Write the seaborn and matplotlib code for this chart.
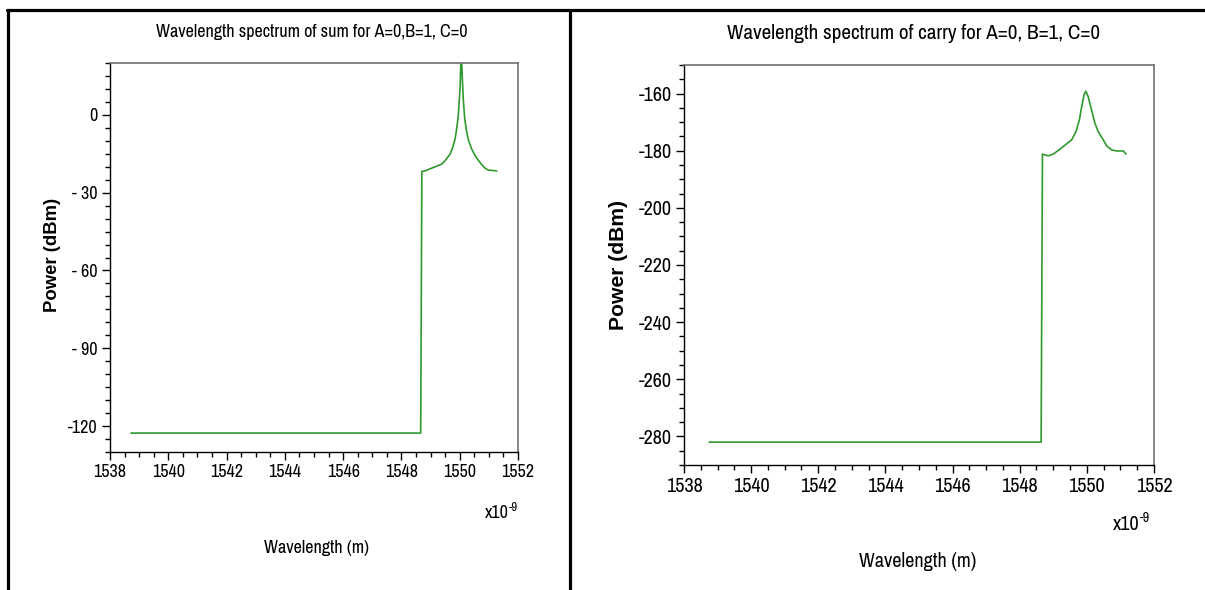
import numpy as np
import pandas as pd
import seaborn as sns
import matplotlib.pyplot as plt
from matplotlib import font_manager as fm
from matplotlib.lines import Line2D
from matplotlib.ticker import MultipleLocator, FuncFormatter

# sum output spectrum (wavelength in nm, power in dBm)
sum_wl = [1538.72, 1548.66, 1548.70, 1548.81, 1549.09, 1549.38, 1549.50, 1549.67, 1549.76,
          1549.84, 1549.90, 1549.95, 1550.01, 1550.05, 1550.12, 1550.17, 1550.24, 1550.30,
          1550.41, 1550.55, 1550.70, 1550.85, 1550.98, 1551.27]
sum_pw = [-122.7, -122.7, -21.8, -21.6, -20.3, -19.0, -17.6, -15.1, -12.5,
          -9.3, -5.0, -0.3, 10.1, 24.0, 6.2, -1.5, -6.7, -9.8,
          -13.2, -16.2, -18.4, -20.4, -21.3, -21.6]

# carry output spectrum
carry_wl = [1538.75, 1548.64, 1548.68, 1548.85, 1549.00, 1549.20, 1549.40, 1549.55,
            1549.68, 1549.78, 1549.85, 1549.92, 1549.97, 1550.04, 1550.14, 1550.24,
            1550.34, 1550.49, 1550.59, 1550.74, 1550.89, 1551.09, 1551.17]
carry_pw = [-282.0, -282.0, -181.2, -181.8, -181.2, -179.5, -177.6, -176.2,
            -173.3, -169.2, -164.5, -160.4, -159.2, -161.0, -165.6, -170.3,
            -173.3, -176.2, -178.3, -179.7, -180.1, -180.1, -181.2]

x_ticks = [1538, 1540, 1542, 1544, 1546, 1548, 1550, 1552]
sum_yticks = [0, -30, -60, -90, -120]
carry_yticks = [-160, -180, -200, -220, -240, -260, -280]

titles = ["Wavelength spectrum of sum for A=0,B=1, C=0",
          "Wavelength spectrum of carry for A=0, B=1, C=0"]

# pick a narrow face if one is installed (reference uses an Arial Narrow look)
fam, stretch = "DejaVu Sans", "condensed"
for key in ["Narrow", "Condensed"]:
    hits = [f for f in fm.fontManager.ttflist if key in f.name and f.style == "normal"]
    if hits:
        fam, stretch = hits[0].name, hits[0].stretch
        break

sns.set_theme(style="white")
plt.rcParams["font.family"] = [fam, "DejaVu Sans"]
plt.rcParams["font.stretch"] = stretch
plt.rcParams["text.color"] = "black"
plt.rcParams["xtick.color"] = "black"
plt.rcParams["ytick.color"] = "black"
plt.rcParams["axes.labelcolor"] = "black"

GREEN = "#2e9a2e"

fig = plt.figure(figsize=(12.05, 5.9), dpi=100)
ax1 = fig.add_axes([0.0913, 0.2339, 0.3386, 0.6593])
ax2 = fig.add_axes([0.5676, 0.2119, 0.3900, 0.6780])


def sum_fmt(v, pos):
    v = int(round(v))
    if -100 < v < 0:
        return "- %d" % -v
    return "%d" % v


def carry_fmt(v, pos):
    return "%d" % int(round(v))


configs = [
    (ax1, sum_wl, sum_pw, (-130, 20), sum_yticks, sum_fmt, 13, 13, 13, 13.3,
     dict(title=(0.495, 1.08), xl=(0.505, -0.247), yl=(-0.12, 0.506), exp=(1.0, -0.157))),
    (ax2, carry_wl, carry_pw, (-290, -150), carry_yticks, carry_fmt, 14.5, 14.6, 15.2, 15.2,
     dict(title=(0.488, 1.0775), xl=(0.498, -0.2425), yl=(-0.12, 0.5), exp=(0.991, -0.15))),
]

for ax, wl, pw, ylim, yticks, fmt, tfs, lfs, titfs, ylfs, pos in configs:
    df = pd.DataFrame({"wl": wl, "pw": pw})
    sns.lineplot(data=df, x="wl", y="pw", ax=ax, color=GREEN, linewidth=1.2,
                 estimator=None, sort=False)
    ax.set_xlim(1538, 1552)
    ax.set_ylim(*ylim)
    ax.set_xticks(x_ticks)
    ax.set_yticks(yticks)
    ax.xaxis.set_minor_locator(MultipleLocator(0.5))
    ax.yaxis.set_minor_locator(MultipleLocator(5))
    ax.yaxis.set_major_formatter(FuncFormatter(fmt))
    ax.tick_params(which="major", direction="out", length=6, width=1, color="black",
                   labelsize=tfs, pad=3, bottom=True, left=True)
    ax.tick_params(which="minor", direction="out", length=3.5, width=1, color="black",
                   bottom=True, left=True)
    for s in ["left", "bottom"]:
        ax.spines[s].set_color("black")
        ax.spines[s].set_linewidth(1.0)
    for s in ["top", "right"]:
        ax.spines[s].set_color("#707070")
        ax.spines[s].set_linewidth(1.2)
    ax.set_xlabel("")
    ax.set_ylabel("Power (dBm)", fontsize=ylfs, fontweight="bold",
                  family=["Liberation Sans", "DejaVu Sans"], fontstretch="normal")
    ax.yaxis.set_label_coords(*pos["yl"])
    ax.text(*pos["title"], titles[0] if ax is ax1 else titles[1], transform=ax.transAxes,
            ha="center", va="center", fontsize=titfs)
    ax.text(*pos["xl"], "Wavelength (m)", transform=ax.transAxes,
            ha="center", va="center", fontsize=lfs)
    # "x10" with a raised "-9"
    sup = ax.text(*pos["exp"], "-9", transform=ax.transAxes, ha="right", va="bottom",
                  fontsize=tfs * 0.7)
    ax.annotate("x10", xy=(0, 0), xycoords=sup, ha="right", va="center",
                fontsize=tfs, xytext=(0, 0), textcoords="offset points")

# table-like frame around the two panels
W, H = 1205, 590
lw = 2.3
fig.add_artist(Line2D([7 / W, 1.0], [1 - 10 / H, 1 - 10 / H], color="black", lw=lw))
fig.add_artist(Line2D([8 / W, 8 / W], [0, 1 - 10 / H], color="black", lw=lw))
fig.add_artist(Line2D([570 / W, 570 / W], [0, 1 - 10 / H], color="black", lw=lw))

fig.savefig("out.png", dpi=100, facecolor="white")
